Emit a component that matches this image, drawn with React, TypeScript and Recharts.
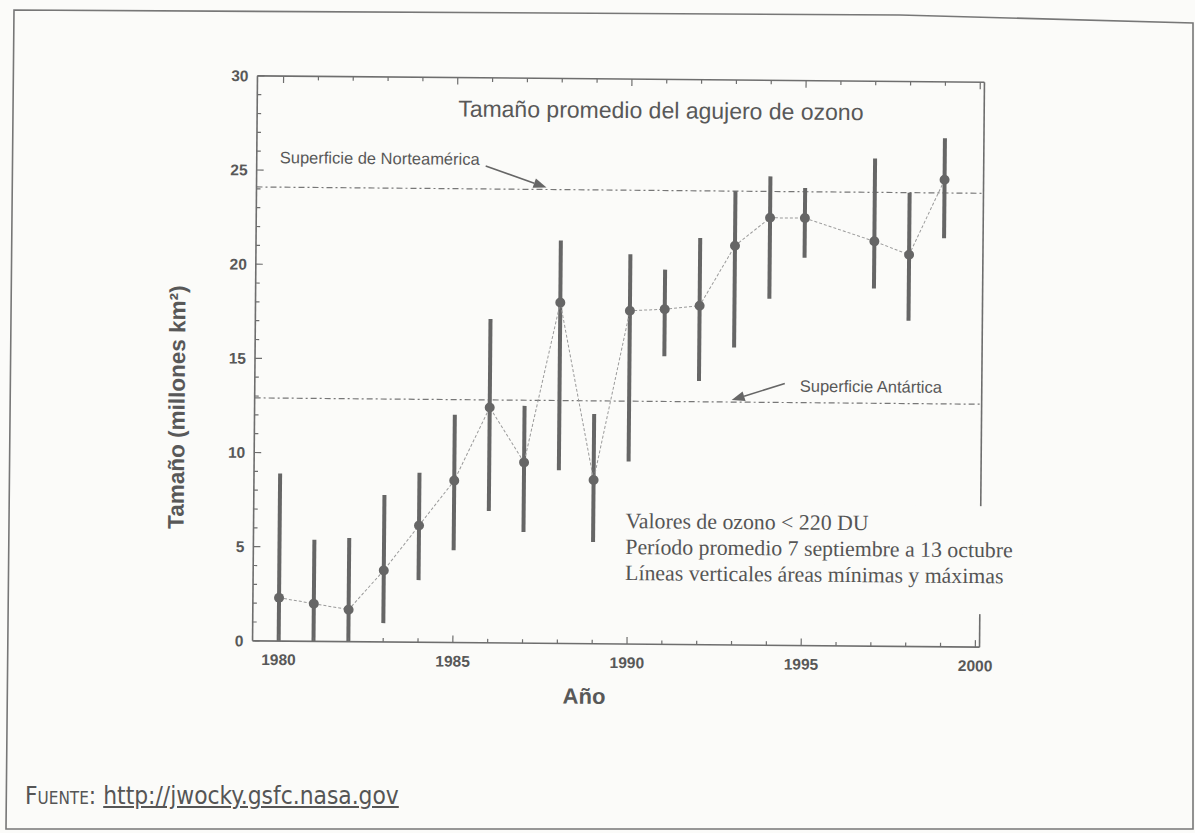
import { ComposedChart, Line, ErrorBar, XAxis, YAxis, ReferenceLine } from 'recharts';

// Ozone hole, mean size per season (millions of km²) with min / max range
const years = [1980, 1981, 1982, 1983, 1984, 1985, 1986, 1987, 1988, 1989, 1990, 1991, 1992, 1993, 1994, 1995, 1997, 1998, 1999];
const meanSize = [2.3, 2.0, 1.7, 3.8, 6.2, 8.6, 12.5, 9.6, 18.1, 8.7, 17.7, 17.8, 18.0, 21.2, 22.7, 22.7, 21.5, 20.8, 24.8];
const minSize = [0, 0, 0, 1.0, 3.3, 4.9, 7.0, 5.9, 9.2, 5.4, 9.7, 15.3, 14.0, 15.8, 18.4, 20.6, 19.0, 17.3, 21.7];
const maxSize = [8.9, 5.4, 5.5, 7.8, 9.0, 12.1, 17.2, 12.6, 21.4, 12.2, 20.7, 19.9, 21.6, 24.1, 24.9, 24.3, 25.9, 24.1, 27.0];

const northAmericaArea = 24.1;
const antarcticaArea = 12.9;

const yearTicks = [1980, 1981, 1982, 1983, 1984, 1985, 1986, 1987, 1988, 1989, 1990, 1991, 1992, 1993, 1994, 1995, 1996, 1997, 1998, 1999, 2000];
const sizeTicks = [0, 1, 2, 3, 4, 5, 6, 7, 8, 9, 10, 11, 12, 13, 14, 15, 16, 17, 18, 19, 20, 21, 22, 23, 24, 25, 26, 27, 28, 29, 30];

const data = years.map((year, i) => ({
  year,
  size: meanSize[i],
  range: [meanSize[i] - minSize[i], maxSize[i] - meanSize[i]],
}));

const BG = '#fbfbf9';
const INK = '#585858';
const AXIS = '#6e6e6e';
const MARK = '#666666';
const sans = "'Liberation Sans', Arial, Helvetica, sans-serif";
const serif = "'Liberation Serif', 'Times New Roman', serif";

const tickText = { fontFamily: sans, fontWeight: 700, fontSize: 15.5, fill: INK };

function LeftTick(props: any) {
  const { x, y, payload } = props;
  const major = payload.value % 5 === 0;
  const ax = x + 9;
  return (
    <g>
      <line x1={ax} x2={ax + (major ? 7 : 4)} y1={y} y2={y} stroke={AXIS} strokeWidth={1.2} />
      {major && (
        <text x={x} y={y} dy={5.5} textAnchor="end" {...tickText}>
          {payload.value}
        </text>
      )}
    </g>
  );
}

function RightTick(props: any) {
  const { x, y, payload } = props;
  const major = payload.value % 5 === 0;
  return <line x1={x} x2={x - (major ? 7 : 4)} y1={y} y2={y} stroke={AXIS} strokeWidth={1.2} />;
}

function BottomTick(props: any) {
  const { x, y, payload } = props;
  const major = payload.value % 5 === 0;
  const ay = y - 9;
  return (
    <g>
      <line x1={x} x2={x} y1={ay} y2={ay - (major ? 7 : 4)} stroke={AXIS} strokeWidth={1.2} />
      {major && (
        <text x={x} y={y} dy={15} textAnchor="middle" {...tickText}>
          {payload.value}
        </text>
      )}
    </g>
  );
}

function TopTick(props: any) {
  const { x, y, payload } = props;
  const major = payload.value % 5 === 0;
  return <line x1={x} x2={x} y1={y} y2={y + (major ? 7 : 4)} stroke={AXIS} strokeWidth={1.2} />;
}

function Arrow({ x1, y1, x2, y2 }: { x1: number; y1: number; x2: number; y2: number }) {
  const a = Math.atan2(y2 - y1, x2 - x1);
  const len = 13;
  const half = 5;
  const bx = x2 - len * Math.cos(a);
  const by = y2 - len * Math.sin(a);
  const px = -Math.sin(a) * half;
  const py = Math.cos(a) * half;
  return (
    <g>
      <line x1={x1} y1={y1} x2={bx} y2={by} stroke={MARK} strokeWidth={1.6} />
      <polygon points={`${x2},${y2} ${bx + px},${by + py} ${bx - px},${by - py}`} fill={MARK} />
    </g>
  );
}

// labels hang off the reference line's own position
function NorthAmericaLabel(props: any) {
  const { x, y } = props.viewBox;
  return (
    <g>
      <text x={x + 23} y={y - 24} fontFamily={sans} fontSize={16.5} fill={INK}>
        Superficie de Norteamérica
      </text>
      <Arrow x1={x + 229} y1={y - 23} x2={x + 290} y2={y - 2} />
    </g>
  );
}

function AntarcticaLabel(props: any) {
  const { x, y } = props.viewBox;
  return (
    <g>
      <text x={x + 545} y={y - 11} fontFamily={sans} fontSize={16.5} fill={INK}>
        Superficie Antártica
      </text>
      <Arrow x1={x + 530} y1={y - 19} x2={x + 477} y2={y - 2} />
    </g>
  );
}

export default function App() {
  return (
    <div style={{ position: 'absolute', left: 0, top: 0, width: 1195, height: 833, background: BG, overflow: 'hidden' }}>
      <svg width={1195} height={833} style={{ position: 'absolute', left: 0, top: 0 }}>
        <polygon points="14,10 900,15 1193,23 1193,829 6,829" fill="none" stroke="#777" strokeWidth={1.6} />
      </svg>

      <div style={{ position: 'absolute', left: 0, top: 0, width: 1195, height: 833, transform: 'rotate(0.5deg)', transformOrigin: '618px 361px' }}>
        <ComposedChart
          width={1195}
          height={833}
          data={data}
          margin={{ top: 69, right: 203, bottom: 149, left: 195 }}
        >
          <XAxis
            dataKey="year"
            type="number"
            domain={[1979.25, 2000.12]}
            ticks={yearTicks}
            interval={0}
            height={40}
            tickSize={0}
            tickMargin={9}
            tickLine={false}
            axisLine={{ stroke: AXIS, strokeWidth: 1.6 }}
            tick={BottomTick}
          />
          <XAxis
            xAxisId="top"
            orientation="top"
            dataKey="year"
            type="number"
            domain={[1979.25, 2000.12]}
            ticks={yearTicks}
            interval={0}
            height={10}
            tickSize={0}
            tickMargin={0}
            tickLine={false}
            axisLine={{ stroke: AXIS, strokeWidth: 1.6 }}
            tick={TopTick}
          />
          <YAxis
            type="number"
            domain={[0, 30]}
            ticks={sizeTicks}
            interval={0}
            width={60}
            tickSize={0}
            tickMargin={9}
            tickLine={false}
            axisLine={{ stroke: AXIS, strokeWidth: 1.6 }}
            tick={LeftTick}
          />
          <YAxis
            yAxisId="right"
            orientation="right"
            type="number"
            domain={[0, 30]}
            ticks={sizeTicks}
            interval={0}
            width={10}
            tickSize={0}
            tickMargin={0}
            tickLine={false}
            axisLine={{ stroke: AXIS, strokeWidth: 1.6 }}
            tick={RightTick}
          />
          <ReferenceLine
            y={northAmericaArea}
            stroke="#777"
            strokeWidth={1.2}
            strokeDasharray="6 3 2 3"
            label={NorthAmericaLabel}
          />
          <ReferenceLine
            y={antarcticaArea}
            stroke="#777"
            strokeWidth={1.2}
            strokeDasharray="6 3 2 3"
            label={AntarcticaLabel}
          />
          <Line
            dataKey="size"
            type="linear"
            stroke="#9a9a9a"
            strokeWidth={1}
            strokeDasharray="3 2"
            dot={{ r: 5, fill: MARK, stroke: MARK, strokeWidth: 0 }}
            isAnimationActive={false}
          >
            <ErrorBar dataKey="range" direction="y" width={0} stroke={MARK} strokeWidth={4} />
          </Line>
        </ComposedChart>

        <div style={{ position: 'absolute', left: 456, top: 97, fontFamily: sans, fontSize: 23, color: INK, whiteSpace: 'nowrap' }}>
          Tamaño promedio del agujero de ozono
        </div>

        <div
          style={{
            position: 'absolute',
            left: 620,
            top: 503,
            width: 415,
            height: 108,
            background: BG,
            fontFamily: serif,
            fontSize: 21.8,
            lineHeight: '26px',
            color: '#555',
            boxSizing: 'border-box',
            padding: '5px 0 0 7px',
            whiteSpace: 'nowrap',
          }}
        >
          <div>Valores de ozono &lt; 220 DU</div>
          <div>Período promedio 7 septiembre a 13 octubre</div>
          <div>Líneas verticales áreas mínimas y máximas</div>
        </div>

        <div style={{ position: 'absolute', left: 547, top: 684, width: 80, textAlign: 'center', fontFamily: sans, fontWeight: 700, fontSize: 22, color: INK }}>
          Año
        </div>

        <div
          style={{
            position: 'absolute',
            left: 178,
            top: 411,
            transform: 'translate(-50%, -50%) rotate(-90deg)',
            fontFamily: sans,
            fontWeight: 700,
            fontSize: 22.5,
            color: INK,
            whiteSpace: 'nowrap',
          }}
        >
          Tamaño (millones km²)
        </div>
      </div>

      <div style={{ position: 'absolute', left: 25, top: 781, fontFamily: "'Liberation Sans Narrow', 'DejaVu Sans Condensed', sans-serif", fontSize: 24.3, color: '#555', whiteSpace: 'nowrap' }}>
        <span style={{ fontVariant: 'small-caps' }}>Fuente:</span>{' '}
        <span style={{ textDecoration: 'underline' }}>http://jwocky.gsfc.nasa.gov</span>
      </div>
    </div>
  );
}
